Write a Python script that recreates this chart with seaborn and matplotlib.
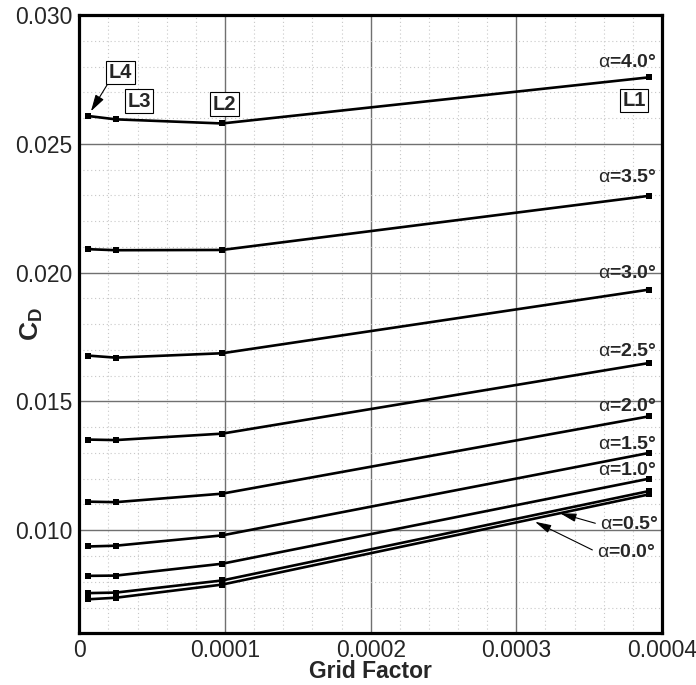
import matplotlib
matplotlib.use("Agg")
import matplotlib.pyplot as plt
from matplotlib.ticker import MultipleLocator, FixedLocator, FixedFormatter
import seaborn as sns
import pandas as pd

# ---------------- data ----------------
grid_factor = [6.0e-6, 2.5e-5, 9.8e-5, 3.91e-4]
level_names = ["L4", "L3", "L2", "L1"]

alpha_labels = ["4.0", "3.5", "3.0", "2.5", "2.0", "1.5", "1.0", "0.5", "0.0"]
cd_a40 = [0.02608, 0.02595, 0.02579, 0.02758]
cd_a35 = [0.02091, 0.02087, 0.02088, 0.02298]
cd_a30 = [0.01678, 0.01670, 0.01687, 0.01934]
cd_a25 = [0.01352, 0.01350, 0.01375, 0.01649]
cd_a20 = [0.01111, 0.01109, 0.01142, 0.01442]
cd_a15 = [0.00937, 0.00940, 0.00980, 0.01300]
cd_a10 = [0.00823, 0.00824, 0.00870, 0.01200]
cd_a05 = [0.00756, 0.00758, 0.00805, 0.01152]
cd_a00 = [0.00732, 0.00738, 0.00789, 0.01139]
series = [cd_a40, cd_a35, cd_a30, cd_a25, cd_a20, cd_a15, cd_a10, cd_a05, cd_a00]

x_ticks = [0, 0.0001, 0.0002, 0.0003, 0.0004]
x_tick_labels = ["0", "0.0001", "0.0002", "0.0003", "0.0004"]
y_ticks = [0.010, 0.015, 0.020, 0.025, 0.030]
y_tick_labels = ["0.010", "0.015", "0.020", "0.025", "0.030"]

rows = []
for a, vals in zip(alpha_labels, series):
    for g, v in zip(grid_factor, vals):
        rows.append({"alpha": a, "grid": g, "cd": v})
df = pd.DataFrame(rows)

# ---------------- style ----------------
sns.set_style("white")
plt.rcParams["font.family"] = ["Liberation Sans", "DejaVu Sans"]
plt.rcParams["mathtext.fontset"] = "custom"
plt.rcParams["mathtext.rm"] = "Liberation Sans:bold"
plt.rcParams["mathtext.bf"] = "Liberation Sans:bold"
plt.rcParams["mathtext.it"] = "Liberation Sans:italic"
plt.rcParams["mathtext.sf"] = "Liberation Sans"

fig = plt.figure(figsize=(6.96, 6.85), dpi=100)
ax = fig.add_axes([79.3 / 696, 1 - 633.3 / 685, (662 - 79.3) / 696, (633.3 - 15) / 685])

for a in alpha_labels:
    sub = df[df["alpha"] == a]
    sns.lineplot(data=sub, x="grid", y="cd", ax=ax, color="black", lw=1.9,
                 marker="s", markersize=4.0, markeredgewidth=0, sort=True,
                 legend=False, zorder=3)

ax.set_xlim(0, 0.0004)
ax.set_ylim(0.006, 0.030)

ax.xaxis.set_major_locator(FixedLocator(x_ticks))
ax.xaxis.set_major_formatter(FixedFormatter(x_tick_labels))
ax.yaxis.set_major_locator(FixedLocator(y_ticks))
ax.yaxis.set_major_formatter(FixedFormatter(y_tick_labels))
ax.xaxis.set_minor_locator(MultipleLocator(2e-5))
ax.yaxis.set_minor_locator(MultipleLocator(0.001))

ax.set_axisbelow(True)
ax.grid(which="major", color="#707070", lw=1.0, ls="-")
ax.grid(which="minor", color="#c8c8c8", lw=0.8, ls=(0, (1, 2.5)))

ax.tick_params(which="major", direction="in", length=10, width=1.6, labelsize=16.5,
               color="black", top=False, right=False)
ax.tick_params(axis="x", which="major", pad=4)
ax.tick_params(axis="y", which="major", pad=5)
ax.tick_params(which="minor", direction="in", length=5.5, width=0.9,
               color="#555555", top=False, right=False)
for s in ax.spines.values():
    s.set_linewidth(2.3)
    s.set_color("black")

ax.set_xlabel("Grid Factor", fontsize=16.5, fontweight="bold")
ax.xaxis.set_label_coords(0.5, -0.043)
ax.set_ylabel(r"$\mathbf{C_D}$", fontsize=19)
ax.yaxis.set_label_coords(-0.059, 0.5)


def alpha_text(a):
    return r"$\mathsf{\alpha}$" + "=" + a + "°"


# alpha labels (offsets in points from the last point of each series)
lab_offsets = [(6, 10.5), (6, 13), (6, 11.5), (6, 8.6), (6, 7.2), (6, 6.3), (6, 6.0)]
for a, vals, off in zip(alpha_labels[:7], series[:7], lab_offsets):
    ax.annotate(alpha_text(a),
                xy=(grid_factor[-1], vals[-1]), xytext=off,
                textcoords="offset points", ha="right", va="center",
                fontsize=14, fontweight="bold", zorder=5)

# arrowed labels for 0.5 and 0.0
arrow_targets = [(3.30e-4, 0.01066), (3.128e-4, 0.01033)]
arrow_texts = [(3.574e-4, 0.01022), (3.553e-4, 0.00915)]
for a, tgt, txt in zip(alpha_labels[7:], arrow_targets, arrow_texts):
    ax.annotate(alpha_text(a),
                xy=tgt, xytext=txt, ha="left", va="center",
                fontsize=14, fontweight="bold", zorder=5,
                arrowprops=dict(arrowstyle="-|>,head_length=0.7,head_width=0.18",
                                color="black", lw=0.8, shrinkA=1, shrinkB=0,
                                relpos=(0, 0.5)))

# level boxes
box = dict(boxstyle="square,pad=0.12", fc="white", ec="black", lw=0.8)
box_offsets = [(23.4, 31.3), (16.8, 13.0), (1.7, 13.9), (-10.8, -16.7)]
for i, (name, off) in enumerate(zip(level_names, box_offsets)):
    kw = {}
    if name == "L4":
        kw["arrowprops"] = dict(arrowstyle="-|>,head_length=0.7,head_width=0.2",
                                color="black", lw=0.8, shrinkA=0, shrinkB=4,
                                relpos=(0, 0))
    ax.annotate(name, xy=(grid_factor[i], cd_a40[i]), xytext=off,
                textcoords="offset points", ha="center", va="center",
                fontsize=14.5, fontweight="bold", bbox=box, zorder=6, **kw)

fig.savefig("out.png", dpi=100)
